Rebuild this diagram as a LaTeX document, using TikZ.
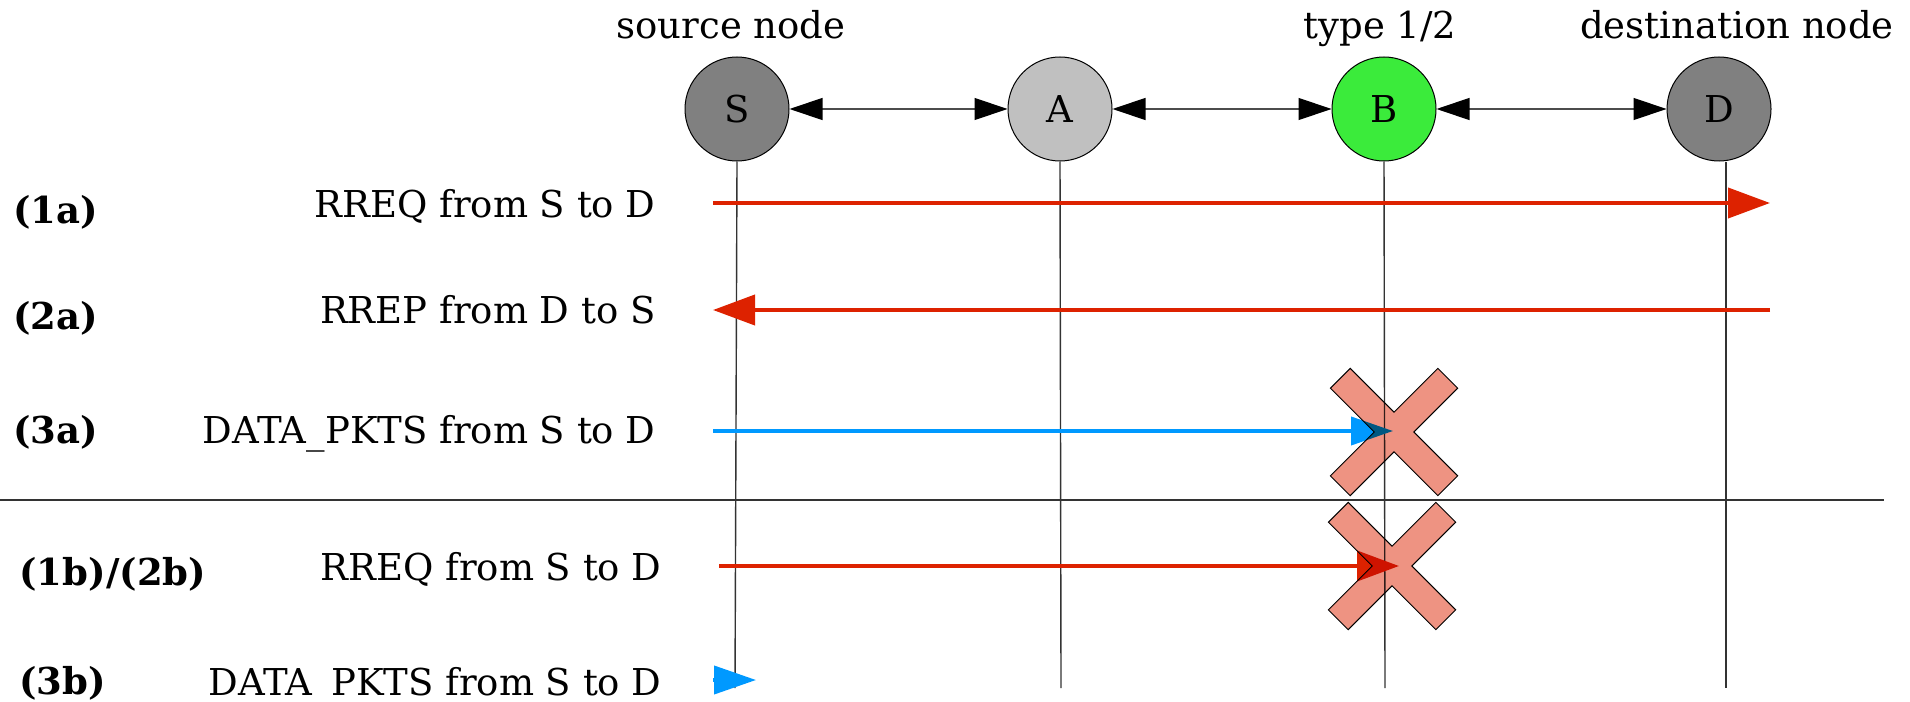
\documentclass[tikz,border=0pt]{standalone}
\usepackage{fontspec}
\setmainfont{DejaVu Serif}
\usetikzlibrary{arrows.meta}

\definecolor{msgred}{HTML}{DD2200}
\definecolor{msgblue}{HTML}{0099FF}
\definecolor{peerdark}{HTML}{808080}
\definecolor{peerlight}{HTML}{C0C0C0}
\definecolor{peergreen}{HTML}{3BEB3B}
\definecolor{dropfill}{HTML}{EE9382}
\definecolor{rulegray}{HTML}{333333}

\tikzset{
  every node/.style={font=\fontsize{18.5}{22}\selectfont, inner sep=0pt},
  peer/.style={circle, draw=black, line width=0.5pt, minimum size=52pt},
  header/.style={anchor=base},
  msgtext/.style={anchor=base east},
  steplabel/.style={anchor=base west, font=\fontsize{18.5}{22}\selectfont\bfseries},
  link/.style={draw=black!70, line width=0.6pt,
    {Triangle[length=16.5pt,width=11pt,color=black]}-{Triangle[length=16.5pt,width=11pt,color=black]}},
  lifeline/.style={draw=black!80, line width=0.7pt},
  redmsg/.style={draw=msgred, line width=2pt, -{Triangle[length=21pt,width=15pt]}},
  bluemsg/.style={draw=msgblue, line width=2pt, -{Triangle[length=21pt,width=14pt]}},
  xmark/.style={fill=dropfill, draw=black, line width=0.5pt, blend mode=multiply},
  blocked/.pic={
    \path[xmark] (76,14) -- (14,14) -- (14,76) -- (-14,76) -- (-14,14) -- (-76,14)
      -- (-76,-14) -- (-14,-14) -- (-14,-76) -- (14,-76) -- (14,-14) -- (76,-14) -- cycle;
  }
}

\begin{document}
\begin{tikzpicture}[x=0.5pt, y=-0.5pt]
\useasboundingbox (0,0) rectangle (1910,701);

% column headers
\node[header] (hs) at (731,39) {source node};
\node[header] (hb) at (1380,39) {type 1/2};
\node[header] (hd) at (1737,39) {destination node};

% peers
\node[peer, fill=peerdark]  (S) at (737,109)  {S};
\node[peer, fill=peerlight] (A) at (1060,109) {A};
\node[peer, fill=peergreen] (B) at (1384,109) {B};
\node[peer, fill=peerdark]  (D) at (1719,109) {D};

% neighbour links
\draw[link] (S) -- (A);
\draw[link] (A) -- (B);
\draw[link] (B) -- (D);

% lifelines
\coordinate (Send) at (735,688);
\coordinate (Aend) at (1061,688);
\coordinate (Bend) at (1385,688);
\coordinate (Dend) at (1726,688);
\draw[lifeline] (S.south) -- (Send);
\draw[lifeline] (A.south) -- (Aend);
\draw[lifeline] (B.south) -- (Bend);
\draw[lifeline] ([xshift=3.5pt]D.south) -- (Dend);

% separator between the two scenarios
\coordinate (sepL) at (0,500);
\coordinate (sepR) at (1884,500);
\draw[draw=rulegray, line width=0.6pt] (sepL) -- (sepR);

% step labels
\node[steplabel] (l1a) at (13,223) {(1a)};
\node[steplabel] (l2a) at (13,329) {(2a)};
\node[steplabel] (l3a) at (13,443) {(3a)};
\node[steplabel] (l1b) at (19,585) {(1b)/(2b)};
\node[steplabel] (l3b) at (19,694) {(3b)};

% message descriptions
\node[msgtext] (t1a) at (656,217) {RREQ from S to D};
\node[msgtext] (t2a) at (656,323) {RREP from D to S};
\node[msgtext] (t3a) at (656,443) {DATA\_PKTS from S to D};
\node[msgtext] (t1b) at (662,580) {RREQ from S to D};
\node[msgtext] (t3b) at (662,695) {DATA\_PKTS from S to D};

% messages
\coordinate (m1s) at (713,203);  \coordinate (m1e) at (1770,203);
\coordinate (m2s) at (1770,310); \coordinate (m2e) at (713,310);
\coordinate (m3s) at (713,431);  \coordinate (m3e) at (1393,431);
\coordinate (m4s) at (719,566);  \coordinate (m4e) at (1399,566);
\coordinate (m5s) at (713,680);  \coordinate (m5e) at (756,680);
\draw[redmsg] (m1s) -- (m1e);
\draw[redmsg] (m2s) -- (m2e);
\draw[bluemsg] (m3s) -- (m3e);
\draw[redmsg] (m4s) -- (m4e);
\draw[bluemsg] (m5s) -- (m5e);

% dropped at B
\pic[rotate=45] at (1394,432) {blocked};
\pic[rotate=45] at (1392,566) {blocked};
\end{tikzpicture}
\end{document}
